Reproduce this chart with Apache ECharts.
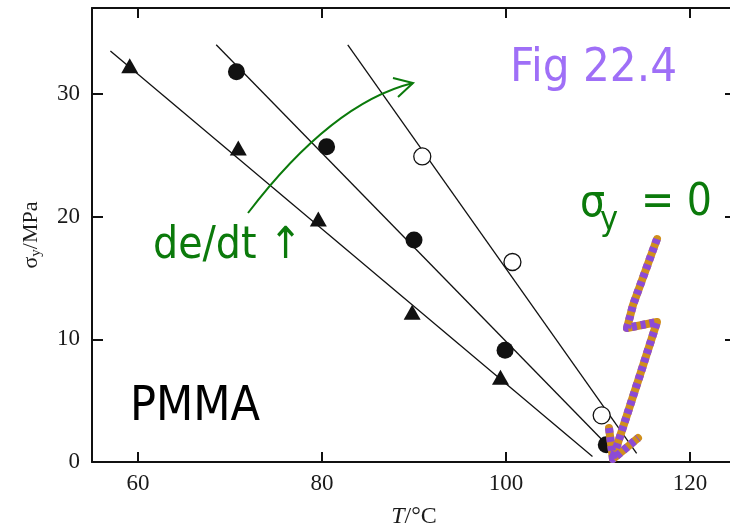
<!DOCTYPE html>
<html><head><meta charset="utf-8">
<script src="https://cdn.jsdelivr.net/npm/echarts@6/dist/echarts.min.js"></script>
<style>html,body{margin:0;padding:0;background:#fff}#c{width:730px;height:528px}</style>
</head><body><div id="c"></div>
<script>
// ---- data ----
const xTicks = [60, 80, 100, 120];
const yTicks = [0, 10, 20, 30];
const triangles = [[59.1, 32.3], [70.9, 25.6], [79.6, 19.8], [89.8, 12.2], [99.4, 6.9]];
const filledCircles = [[70.7, 31.8], [80.5, 25.7], [90.0, 18.1], [99.9, 9.1], [110.9, 1.4]];
const openCircles = [[90.9, 24.9], [100.7, 16.3], [110.4, 3.8]];
const triFit = [[57.0, 33.5], [109.4, 0.45]];
const filledFit = [[68.5, 34.0], [111.5, 1.0]];
const openFit = [[82.8, 34.0], [114.2, 0.7]];

const serif = "'Liberation Serif', 'DejaVu Serif', serif";
const sans = "'DejaVu Sans Condensed', 'DejaVu Sans', sans-serif";
const green = '#0b7a0b';
const ink = '#111';
const purple = '#8c4bd6', orange = '#d08f1c';
const axisCommon = {
  axisLine: {show: true, onZero: false, lineStyle: {color: ink, width: 2}},
  splitLine: {show: false}
};
function fitLine(d) {
  return {type: 'line', data: d, symbol: 'none', silent: true, z: 2,
    lineStyle: {color: ink, width: 1.3}, animation: false};
}
const tickStyle = {color: ink, width: 2};
const boltPts = [[657, 239], [645, 272], [633, 305], [627, 328], [657, 322], [640, 375], [613, 458]];
const headPts = [[609, 428], [613, 459], [638, 438]];
function stroke(points, z, color, dash) {
  return {type: 'polyline', z: z, shape: {points: points},
    style: {stroke: color, lineWidth: 8, fill: null, lineJoin: 'round',
      lineCap: dash ? 'butt' : 'round', lineDash: dash || null, lineDashOffset: 0}};
}
const chart = echarts.init(document.getElementById('c'), null, {renderer: 'canvas'});
chart.setOption({
  animation: false,
  backgroundColor: '#fff',
  grid: {left: 92, right: -6, top: 8, bottom: 66, outerBoundsMode: 'none', containLabel: false},
  xAxis: [
    Object.assign({type: 'value', min: 55, max: 125, position: 'bottom',
      axisTick: {inside: true, length: 10, lineStyle: tickStyle, customValues: xTicks},
      axisLabel: {customValues: xTicks, color: '#1a1a1a', fontFamily: serif, fontSize: 23, margin: 10},
      name: '{i|T}/°C', nameLocation: 'middle', nameGap: 43,
      nameTextStyle: {color: '#1a1a1a', fontFamily: serif, fontSize: 24,
        rich: {i: {fontStyle: 'italic', fontFamily: serif, fontSize: 24, color: '#1a1a1a'}}}
    }, axisCommon),
    Object.assign({type: 'value', min: 55, max: 125, position: 'top',
      axisTick: {inside: true, length: 10, lineStyle: tickStyle, customValues: xTicks},
      axisLabel: {show: false}}, axisCommon)
  ],
  yAxis: [
    Object.assign({type: 'value', min: 0, max: 37, position: 'left',
      axisTick: {inside: true, length: 11, lineStyle: tickStyle, customValues: yTicks},
      axisLabel: {customValues: yTicks, color: '#1a1a1a', fontFamily: serif, fontSize: 23, margin: 12},
      name: '{s|σ}{sub|y}{s|/MPa}', nameLocation: 'middle', nameGap: 48, nameRotate: 90,
      nameTextStyle: {color: '#1a1a1a', fontFamily: serif, fontSize: 22,
        rich: {s: {fontFamily: serif, fontSize: 22, color: '#1a1a1a'},
               sub: {fontFamily: serif, fontSize: 15, color: '#1a1a1a', padding: [10, 0, 0, 0]}}}
    }, axisCommon),
    Object.assign({type: 'value', min: 0, max: 37, position: 'right',
      axisTick: {inside: true, length: 11, lineStyle: tickStyle, customValues: yTicks},
      axisLabel: {show: false}}, axisCommon)
  ],
  series: [
    fitLine(triFit), fitLine(filledFit), fitLine(openFit),
    {type: 'scatter', data: triangles, symbol: 'triangle', symbolSize: [17, 15], z: 3,
      itemStyle: {color: ink, opacity: 1}},
    {type: 'scatter', data: filledCircles, symbol: 'circle', symbolSize: 17, z: 3,
      itemStyle: {color: ink, opacity: 1}},
    {type: 'scatter', data: openCircles, symbol: 'circle', symbolSize: 17, z: 3,
      itemStyle: {color: '#fff', borderColor: ink, borderWidth: 1.3, opacity: 1}}
  ],
  graphic: [
    {type: 'text', z: 10, style: {text: 'Fig 22.4', x: 510, y: 69, font: '47px ' + sans, fill: '#9f6ff7', verticalAlign: 'middle'}},
    {type: 'text', z: 10, style: {text: 'PMMA', x: 130, y: 408, font: '48px ' + sans, fill: '#000', verticalAlign: 'middle'}},
    {type: 'text', z: 10, style: {text: 'de/dt ↑', x: 153, y: 247, font: '44px ' + sans, fill: green, verticalAlign: 'middle'}},
    {type: 'text', z: 10, style: {text: 'σ', x: 580, y: 205, font: '44px ' + sans, fill: green, verticalAlign: 'middle'}},
    {type: 'text', z: 10, style: {text: 'y', x: 600, y: 221, font: '34px ' + sans, fill: green, verticalAlign: 'middle'}},
    {type: 'text', z: 10, style: {text: '= 0', x: 641, y: 204, font: '44px ' + sans, fill: green, verticalAlign: 'middle'}},
    {type: 'bezierCurve', z: 10, shape: {x1: 248, y1: 213, cpx1: 332, cpy1: 103, x2: 413, y2: 83},
      style: {stroke: green, lineWidth: 2, fill: null}},
    {type: 'polyline', z: 10, shape: {points: [[393, 78], [413, 83], [398, 97]]},
      style: {stroke: green, lineWidth: 2, fill: null}},
    stroke(boltPts, 10, orange),
    stroke(boltPts, 11, purple, [5, 4]),
    stroke(headPts, 10, orange),
    stroke(headPts, 11, purple, [5, 4])
  ]
});
</script></body></html>
